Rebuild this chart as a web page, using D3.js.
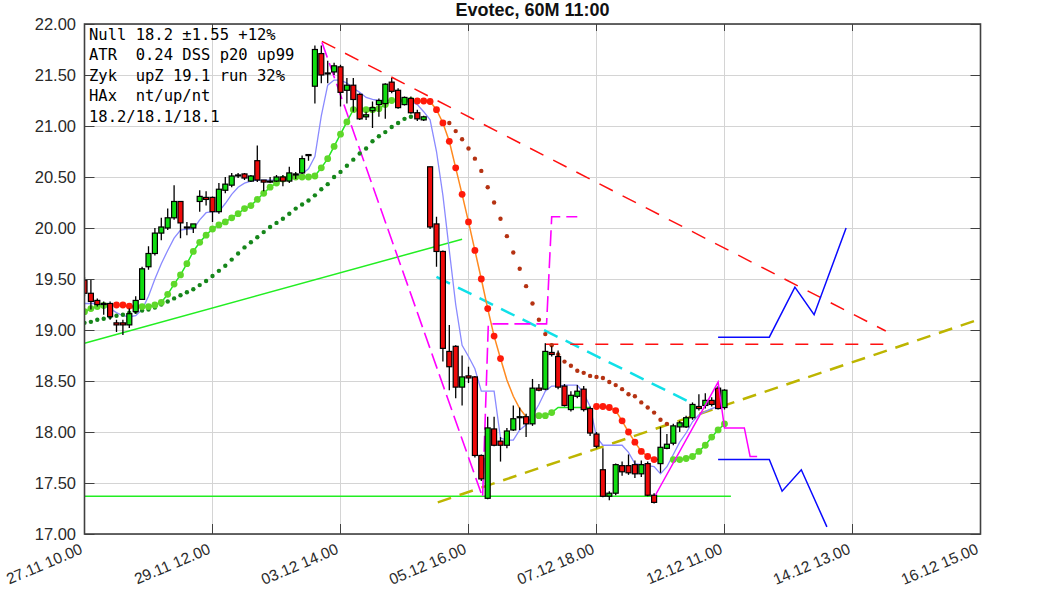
<!DOCTYPE html>
<html><head><meta charset="utf-8">
<script src="https://cdn.jsdelivr.net/npm/d3@7"></script>
<style>body{margin:0;background:#fff;}svg{display:block;}</style>
</head><body><svg id="c" width="1063" height="591"></svg>
<script>
// ---------- data ----------
const title = "Evotec, 60M 11:00";
const xTickIdx = [0,20,40,60,80,100,120,140];
const xTickLabels = ["27.11 10.00","29.11 12.00","03.12 14.00","05.12 16.00","07.12 18.00","12.12 11.00","14.12 13.00","16.12 15.00"];
const yTicks = [17,17.5,18,18.5,19,19.5,20,20.5,21,21.5,22];
const infoLines = ["Null 18.2 \u00b11.55 +12%","ATR  0.24 DSS p20 up99","Zyk  upZ 19.1 run 32%","HAx  nt/up/nt","18.2/18.1/18.1"];

const open = [19.49,19.36,19.29,19.26,19.26,19.07,19.07,19.05,19.18,19.30,
19.62,19.75,19.95,20.00,20.10,20.26,20.01,20.00,20.26,20.30,
20.30,20.16,20.37,20.42,20.51,20.53,20.46,20.66,20.47,20.46,
20.46,20.50,20.46,20.52,20.54,20.72,21.39,21.71,21.52,21.53,
21.58,21.35,21.40,21.31,21.09,21.15,21.21,21.22,21.43,21.35,
21.21,21.27,21.13,21.06,20.60,20.04,19.77,18.79,18.84,18.44,
18.55,18.54,17.77,17.35,18.03,17.91,17.87,18.02,18.14,18.15,
18.08,18.43,18.42,18.78,18.74,18.45,18.22,18.35,18.42,18.23,
17.98,17.63,17.37,17.40,17.67,17.67,17.68,17.59,17.69,17.38,
17.69,17.84,17.89,18.05,18.05,18.14,18.25,18.26,18.31,18.43,
18.24];
const high = [19.52,19.49,19.31,19.28,19.28,19.10,19.10,19.21,19.33,19.62,
19.82,20.00,20.10,20.19,20.42,20.26,20.06,20.04,20.37,20.36,
20.31,20.44,20.50,20.54,20.54,20.54,20.52,20.81,20.47,20.50,
20.52,20.52,20.60,20.55,20.71,20.72,21.79,21.79,21.64,21.62,
21.60,21.47,21.47,21.32,21.14,21.24,21.27,21.42,21.47,21.37,
21.29,21.29,21.16,21.10,20.60,20.11,19.78,19.05,18.85,18.75,
18.64,18.55,17.78,18.15,18.15,17.95,18.04,18.26,18.24,18.18,
18.52,18.47,18.87,18.84,18.80,18.47,18.40,18.46,18.45,18.25,
18.00,17.84,17.42,17.69,17.71,17.78,17.72,17.72,17.71,17.40,
18.05,17.98,18.08,18.11,18.16,18.29,18.37,18.38,18.34,18.45,
18.42];
const low = [19.33,19.20,19.23,19.15,19.10,18.98,18.95,19.02,19.16,19.30,
19.59,19.73,19.88,19.98,20.08,19.90,19.93,19.95,20.16,20.22,
20.06,20.14,20.34,20.40,20.49,20.47,20.45,20.45,20.36,20.44,
20.45,20.41,20.44,20.48,20.53,20.66,21.22,21.42,21.42,21.50,
21.19,21.22,21.14,21.06,21.06,20.98,21.09,21.07,21.32,21.17,
21.20,21.12,21.05,21.05,19.99,19.62,18.69,18.41,18.33,18.26,
18.48,17.75,17.52,17.34,17.86,17.71,17.84,18.01,18.02,17.95,
18.06,18.40,18.41,18.74,18.42,18.25,18.20,18.33,18.20,17.96,
17.84,17.36,17.33,17.38,17.57,17.58,17.55,17.56,17.37,17.30,
17.60,17.83,17.87,18.00,18.04,18.12,18.21,18.23,18.25,18.22,
18.22];
const close = [19.36,19.28,19.25,19.25,19.13,19.05,19.05,19.16,19.29,19.60,
19.75,19.95,20.01,20.10,20.26,20.05,20.00,20.04,20.31,20.28,
20.16,20.38,20.43,20.51,20.52,20.49,20.51,20.47,20.45,20.45,
20.50,20.46,20.54,20.53,20.68,20.71,21.75,21.50,21.51,21.59,
21.33,21.40,21.26,21.07,21.11,21.18,21.25,21.41,21.34,21.18,
21.28,21.13,21.07,21.09,20.01,19.77,18.82,18.64,18.44,18.54,
18.53,17.77,17.54,18.04,17.87,17.87,18.01,18.13,18.15,18.08,
18.43,18.41,18.79,18.76,18.44,18.26,18.36,18.40,18.22,17.99,
17.86,17.37,17.40,17.68,17.61,17.60,17.59,17.68,17.38,17.31,
17.85,17.88,18.06,18.09,18.14,18.27,18.23,18.31,18.27,18.23,
18.41];

const lavender = [19.26,19.26,19.26,19.24,19.21,19.17,19.14,19.13,19.14,19.20,
19.33,19.50,19.65,19.78,19.90,19.98,19.99,19.99,20.08,20.15,
20.16,20.16,20.24,20.33,20.40,20.44,20.46,20.47,20.47,20.47,
20.47,20.48,20.50,20.51,20.53,20.58,20.70,21.10,21.40,21.45,
21.45,21.42,21.37,21.33,21.28,21.26,21.25,21.25,21.25,21.25,
21.24,21.24,21.21,21.14,21.06,20.75,20.32,19.78,19.25,18.85,
18.74,18.62,18.40,18.40,18.40,17.94,17.92,17.92,18.02,18.07,
18.16,18.27,18.40,18.45,18.45,18.46,18.46,18.46,18.38,18.25,
17.95,17.87,17.87,17.87,17.87,17.80,17.69,17.68,17.67,17.66,
17.59,17.66,17.78,17.90,17.99,18.10,18.17,18.20,18.23,18.25,
18.26];

// fast stop-and-reverse (big dots); side codes: u=bull dot, U=bull line only, d=bear dot, D=bear line only, -=none
const sarFast = [19.18,19.21,19.23,19.24,null,19.245,19.245,19.235,19.225,19.23,
19.23,19.245,19.27,19.35,19.45,19.54,19.65,19.77,19.86,19.93,
19.99,20.03,20.06,20.10,20.14,20.19,20.22,20.28,20.34,20.40,
20.44,20.48,20.49,20.50,20.50,20.50,20.51,20.59,20.68,20.80,
20.92,21.04,21.16,21.16,21.16,21.16,21.17,21.21,21.25,21.25,
21.25,21.25,21.245,21.245,21.24,21.16,21.03,20.85,20.59,20.33,
20.06,19.78,19.50,19.21,18.94,18.72,18.51,18.35,18.23,18.15,
null,18.16,18.16,18.19,18.24,18.24,18.24,18.24,18.24,18.24,
18.25,18.25,18.24,18.21,18.11,18.00,17.90,17.81,17.76,17.73,
17.73,null,17.73,17.73,17.74,17.76,17.81,17.87,17.95,18.02,
18.08];
const sarFastRuns = [["u",4],["-",1],["d",4],["u",43],["d",14],["D",4],["-",1],["u",3],["U",6],["d",10],["D",1],["-",1],["u",9]];

// slow stop-and-reverse (small dots)
const sarSlow = [19.07,19.08,19.10,19.11,19.13,19.14,19.15,19.17,19.18,19.19,
19.20,19.22,19.25,19.28,19.31,19.34,19.37,19.40,19.44,19.48,
19.53,19.58,19.63,19.69,19.75,19.81,19.86,19.91,19.96,20.01,
20.05,20.09,20.14,20.19,20.23,20.27,20.32,20.38,20.43,20.50,
20.55,20.61,20.67,20.73,20.78,20.85,20.90,20.94,20.99,21.03,
21.07,21.09,null,null,null,null,null,21.03,20.95,20.87,
20.78,20.68,20.56,20.40,20.25,20.09,19.92,19.76,19.60,19.43,
19.26,19.10,18.96,18.85,18.76,18.69,18.65,18.60,18.58,18.55,
18.54,18.53,18.49,18.46,18.42,18.37,18.35,18.29,18.24,18.19,
18.12,18.08,null,null,null,null,null,null,null,null,
null];
const sarSlowRuns = [["u",52],["-",5],["d",35],["-",9]];

// drawn lines: [bar index, price]
const trendDown = [[37.1,21.83],[125.2,18.99]];
const trendUp = [[0,18.87],[59,19.89]];
const supportLine = [[0,17.37],[101,17.37]];
const resistLine = [[72,18.86],[125.4,18.86]];
const cyanLine = [[55,19.52],[95,18.28]];
const oliveLine = [[55.2,17.31],[141,19.13]];
const zykPath = [[37.1,21.82],[62.2,17.36],[63.1,19.06],[72.2,19.06],[73.0,20.11],[77.0,20.11]];
const projPath = [[89.2,17.38],[99.0,18.49],[100.0,18.04],[103.1,18.04],[104.0,17.76],[105.1,17.76]];
const blueUp = [[99,18.93],[107,18.93],[111,19.42],[114,19.15],[119,20.00]];
const blueDown = [[99,17.73],[107,17.73],[109,17.42],[112,17.63],[116,17.07]];

// ---------- drawing ----------
const L = 84.5, R = 980.5, T = 24, B = 534;
const svg = d3.select("#c");
const x = d3.scaleLinear().domain([0,140]).range([L,R]);
const y = d3.scaleLinear().domain([17,22]).range([B,T]);
const sans = "'Liberation Sans', Arial, Helvetica, sans-serif";

function expand(runs){ const s=[]; runs.forEach(([c,n])=>{for(let k=0;k<n;k++) s.push(c);}); return s; }
const fastSide = expand(sarFastRuns);
const slowSide = expand(sarSlowRuns);

svg.append("defs").append("clipPath").attr("id","clip")
  .append("rect").attr("x",L).attr("y",T).attr("width",R-L).attr("height",B-T);

// grid
const grid = svg.append("g").attr("stroke","#d4d4d4").attr("stroke-width",1);
grid.selectAll("line.h").data(yTicks).join("line")
  .attr("x1",L).attr("x2",R).attr("y1",d=>y(d)+0.5).attr("y2",d=>y(d)+0.5);
grid.selectAll("line.v").data(xTickIdx).join("line")
  .attr("x1",d=>x(d)).attr("x2",d=>x(d)).attr("y1",T).attr("y2",B);

const plot = svg.append("g").attr("clip-path","url(#clip)");
const line = d3.line().x(d=>x(d[0])).y(d=>y(d[1]));

function drawPath(pts, color, w, dash){
  plot.append("path").attr("d",line(pts)).attr("fill","none").attr("stroke",color)
    .attr("stroke-width",w).attr("stroke-dasharray",dash||null);
}
drawPath(trendUp,"#22ee22",1.5);
drawPath(supportLine,"#22ee22",1.5);
drawPath(oliveLine,"#bdb500",2.5,"14,9");
drawPath(cyanLine,"#10e0e8",2.5,"15,9");
drawPath(trendDown,"#ff1010",1.5,"15,11");
drawPath(resistLine,"#ff1010",1.5,"13,12");
drawPath(zykPath,"#ff00ff",1.6,"16,6");

// lavender line
plot.append("path").attr("d",line(lavender.map((v,i)=>[i,v])))
  .attr("fill","none").attr("stroke","#8a8aff").attr("stroke-width",1.3);

// SAR runs lines
function runsOf(vals, side, bullSet){
  const out=[]; let cur=null, curBull=null;
  vals.forEach((v,i)=>{
    const s=side[i];
    if(v==null||s==="-"){cur=null;return;}
    const bull = bullSet.includes(s);
    if(!cur||curBull!==bull){cur={bull,pts:[]};curBull=bull;out.push(cur);}
    cur.pts.push([i,v]);
  });
  return out;
}
runsOf(sarFast,fastSide,["u","U"]).forEach(r=>{
  if(r.pts.length<2) return;
  plot.append("path").attr("d",line(r.pts)).attr("fill","none")
    .attr("stroke",r.bull?"#22e822":"#ff8a20").attr("stroke-width",1.5);
});
// slow dots
plot.selectAll("circle.slow").data(sarSlow.map((v,i)=>({i,v,s:slowSide[i]})).filter(d=>d.v!=null&&d.s!=="-"))
  .join("circle").attr("cx",d=>x(d.i)).attr("cy",d=>y(d.v)).attr("r",2.2)
  .attr("fill",d=>d.s==="u"?"#15861a":"#b53212");
// fast dots
plot.selectAll("circle.fast").data(sarFast.map((v,i)=>({i,v,s:fastSide[i]})).filter(d=>d.v!=null&&(d.s==="u"||d.s==="d")))
  .join("circle").attr("cx",d=>x(d.i)).attr("cy",d=>y(d.v)).attr("r",3.4)
  .attr("fill",d=>d.s==="u"?"#5ed82a":"#ff1a0a");

// candles
const bars = open.map((o,i)=>({i,o,h:high[i],l:low[i],c:close[i]}));
const cg = plot.append("g");
cg.selectAll("line.w").data(bars).join("line")
  .attr("x1",d=>x(d.i)).attr("x2",d=>x(d.i)).attr("y1",d=>y(d.h)).attr("y2",d=>y(d.l))
  .attr("stroke","#000").attr("stroke-width",1.3);
cg.selectAll("rect.b").data(bars).join("rect")
  .attr("x",d=>x(d.i)-2.5).attr("width",5)
  .attr("y",d=>y(Math.max(d.o,d.c)))
  .attr("height",d=>Math.max(1,Math.abs(y(d.o)-y(d.c))))
  .attr("fill",d=>d.c>=d.o?"#10dd10":"#ee0a0a").attr("stroke","#000").attr("stroke-width",1.2);

// projections
drawPath(projPath,"#ff00ff",1.5);
drawPath(blueUp,"#0a0aff",1.5);
drawPath(blueDown,"#0a0aff",1.5);

// frame and ticks
const ax = svg.append("g").attr("stroke","#404040");
ax.append("rect").attr("x",L).attr("y",T).attr("width",R-L).attr("height",B-T)
  .attr("fill","none").attr("stroke-width",1.6);
ax.selectAll("line.yl").data(yTicks).join("line").attr("x1",L).attr("x2",L+10)
  .attr("y1",d=>y(d)+0.5).attr("y2",d=>y(d)+0.5).attr("stroke-width",1);
ax.selectAll("line.yr").data(yTicks).join("line").attr("x1",R-10).attr("x2",R)
  .attr("y1",d=>y(d)+0.5).attr("y2",d=>y(d)+0.5).attr("stroke-width",1);
ax.selectAll("line.xb").data(xTickIdx).join("line").attr("x1",d=>x(d)).attr("x2",d=>x(d))
  .attr("y1",B).attr("y2",B-10).attr("stroke-width",1);
ax.selectAll("line.xt").data(xTickIdx).join("line").attr("x1",d=>x(d)).attr("x2",d=>x(d))
  .attr("y1",T).attr("y2",T+7).attr("stroke-width",1);

// y labels
svg.append("g").selectAll("text").data(yTicks).join("text")
  .attr("x",76).attr("y",d=>y(d)).attr("dy","0.36em").attr("text-anchor","end")
  .attr("font-family",sans).attr("font-size",16.5).attr("fill","#2a2a2a")
  .text(d=>d3.format(".2f")(d));

// x labels
svg.append("g").selectAll("text").data(xTickIdx).join("text")
  .attr("transform",(d)=>`translate(${x(d)-1},553) rotate(-23)`)
  .attr("text-anchor","end").attr("font-family",sans).attr("font-size",15.5).attr("fill","#2a2a2a")
  .text((d,k)=>xTickLabels[k]);

// title
svg.append("text").attr("x",(L+R)/2).attr("y",16).attr("text-anchor","middle")
  .attr("font-family",sans).attr("font-weight","bold").attr("font-size",18).attr("fill","#111")
  .text(title);

// info box
svg.append("g").selectAll("text").data(infoLines).join("text")
  .attr("x",89).attr("y",(d,k)=>39.5+k*20.5)
  .attr("font-family","'DejaVu Sans Mono', monospace").attr("font-size",15.5).attr("fill","#000")
  .attr("xml:space","preserve").style("white-space","pre")
  .text(d=>d);
</script>
</body></html>
